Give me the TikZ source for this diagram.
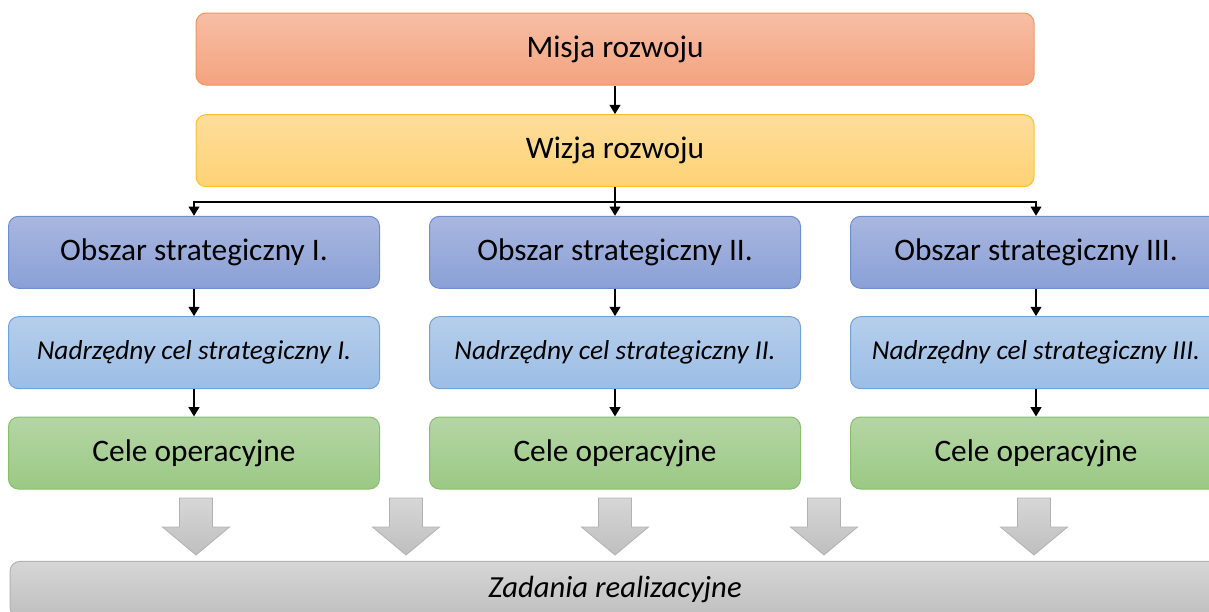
\documentclass[tikz,border=0pt]{standalone}
\usepackage{fontspec}
\setmainfont{Carlito}
\usepackage{tikz}
\usetikzlibrary{arrows.meta,positioning}
\definecolor{msTop}{HTML}{F7BEA5}
\definecolor{msBot}{HTML}{F4A37F}
\definecolor{msLine}{HTML}{EE955F}
\definecolor{wzTop}{HTML}{FEDD9C}
\definecolor{wzBot}{HTML}{FED375}
\definecolor{wzLine}{HTML}{FCC12A}
\definecolor{obTop}{HTML}{A9B7DF}
\definecolor{obBot}{HTML}{8AA0D6}
\definecolor{obLine}{HTML}{6E8ED0}
\definecolor{ncTop}{HTML}{B6CEEB}
\definecolor{ncBot}{HTML}{9BBDE5}
\definecolor{ncLine}{HTML}{72A2DA}
\definecolor{opTop}{HTML}{B5D5A5}
\definecolor{opBot}{HTML}{9BC984}
\definecolor{opLine}{HTML}{88BE6C}
\definecolor{zdTop}{HTML}{D6D6D6}
\definecolor{zdBot}{HTML}{BFBFBF}
\definecolor{zdLine}{HTML}{B2B2B2}
\tikzset{
  % common box
  boxbase/.style={rectangle,rounded corners=7.5pt,
    minimum height=54pt,align=center,line width=0.75pt,
    font=\fontsize{23.5}{28}\selectfont,text=black},
  % Misja (orange)
  mbox/.style={boxbase,minimum width=628.5pt,
    draw=msLine,top color=msTop,bottom color=msBot},
  % Wizja (yellow)
  wbox/.style={boxbase,minimum width=628.5pt,
    draw=wzLine,top color=wzTop,bottom color=wzBot},
  % Obszar strategiczny (blue)
  obox/.style={boxbase,minimum width=278.25pt,
    draw=obLine,top color=obTop,bottom color=obBot},
  % Nadrzedny cel (light blue, italic)
  nbox/.style={boxbase,minimum width=278.25pt,
    draw=ncLine,top color=ncTop,bottom color=ncBot,
    font=\fontsize{20.5}{24}\selectfont\itshape},
  % Cele operacyjne (green)
  cbox/.style={boxbase,minimum width=278.25pt,
    draw=opLine,top color=opTop,bottom color=opBot},
  % Zadania (gray, italic)
  zbox/.style={boxbase,minimum width=907.5pt,minimum height=42pt,
    draw=zdLine,top color=zdTop,bottom color=zdBot,
    font=\fontsize{23}{28}\selectfont\itshape},
  % Arrows
  arr/.style={-{Triangle[length=7pt,width=8pt]},line width=1.5pt,color=black},
  blockarr/.style={draw=zdLine,line width=0.6pt,top color=zdTop,bottom color=zdBot},
}

\begin{document}
\begin{tikzpicture}[x=0.75pt,y=-0.75pt,node distance=20.5pt and 36.75pt]
  \clip (0,0) rectangle (1209,611);
  \node[mbox] (misja) at (615,49) {Misja rozwoju};
  \node[wbox,below=21.5pt of misja] (wizja) {Wizja rozwoju};
  \node[obox,below=21.5pt of wizja] (ob2) {Obszar strategiczny II.};
  \node[obox,left=of ob2] (ob1) {Obszar strategiczny I.};
  \node[obox,right=of ob2] (ob3) {Obszar strategiczny III.};
  \node[nbox,below=of ob1] (cel1) {Nadrzędny cel strategiczny I.};
  \node[nbox,below=of ob2] (cel2) {Nadrzędny cel strategiczny II.};
  \node[nbox,below=of ob3] (cel3) {Nadrzędny cel strategiczny III.};
  \node[cbox,below=of cel1] (op1) {Cele operacyjne};
  \node[cbox,below=of cel2] (op2) {Cele operacyjne};
  \node[cbox,below=of cel3] (op3) {Cele operacyjne};
  \node[zbox,below=53.5pt of op2] (zad) {Zadania realizacyjne};

  \draw[arr] (misja) -- (wizja);
  \draw[arr] (wizja.south) -- ++(0,15) -| (ob1.north);
  \draw[arr] (wizja.south) -- ++(0,15) -| (ob3.north);
  \draw[arr] (wizja) -- (ob2);
  \foreach \i in {1,2,3} {
    \draw[arr] (ob\i) -- (cel\i);
    \draw[arr] (cel\i) -- (op\i);
  }
  % gray block arrows into the task bar
  \foreach \x in {196,406,615,824,1034}
    \path[blockarr] (\x-16.5,498) -- (\x+16.5,498) -- (\x+16.5,527)
      -- (\x+33.5,527) -- (\x,555) -- (\x-33.5,527) -- (\x-16.5,527) -- cycle;
\end{tikzpicture}
\end{document}
